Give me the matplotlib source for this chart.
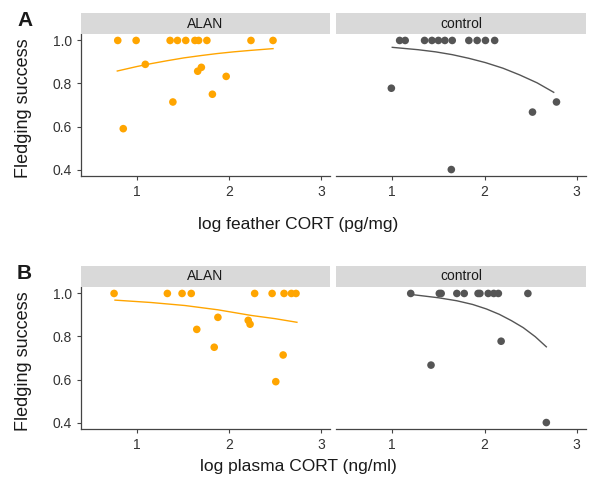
import matplotlib
matplotlib.use("Agg")
import matplotlib.pyplot as plt

plt.rcParams['font.family'] = ['Liberation Sans', 'DejaVu Sans']

ORANGE = '#FFA500'
GREY = '#555555'

# feather CORT, ALAN
feather_alan_x = [0.79, 0.99, 1.36, 1.44, 1.53, 1.63, 1.67, 1.76, 2.24, 2.48,
                  1.09, 1.66, 1.70, 1.97, 1.82, 1.39, 0.85]
feather_alan_y = [1.0, 1.0, 1.0, 1.0, 1.0, 1.0, 1.0, 1.0, 1.0, 1.0,
                  0.889, 0.857, 0.875, 0.833, 0.75, 0.714, 0.59]
feather_alan_fit_x = [0.785, 1.0, 1.15, 1.33, 1.51, 1.70, 1.87, 2.05, 2.24, 2.48]
feather_alan_fit_y = [0.858, 0.879, 0.892, 0.906, 0.919, 0.930, 0.939, 0.947, 0.954, 0.962]

# feather CORT, control
feather_ctrl_x = [1.08, 1.14, 1.35, 1.43, 1.50, 1.57, 1.65, 1.83, 1.92, 2.01, 2.11,
                  0.99, 2.52, 2.78, 1.64]
feather_ctrl_y = [1.0] * 11 + [0.778, 0.667, 0.714, 0.40]
feather_ctrl_fit_x = [1.0, 1.28, 1.47, 1.65, 1.83, 2.01, 2.20, 2.38, 2.57, 2.75]
feather_ctrl_fit_y = [0.968, 0.957, 0.947, 0.934, 0.917, 0.897, 0.871, 0.840, 0.803, 0.759]

# plasma CORT, ALAN
plasma_alan_x = [0.75, 1.33, 1.49, 1.59, 2.28, 2.47, 2.60, 2.68, 2.73,
                 1.65, 1.88, 1.84, 2.21, 2.23, 2.59, 2.51]
plasma_alan_y = [1.0] * 9 + [0.833, 0.889, 0.75, 0.875, 0.857, 0.714, 0.59]
plasma_alan_fit_x = [0.76, 1.15, 1.52, 1.88, 2.24, 2.50, 2.74]
plasma_alan_fit_y = [0.969, 0.958, 0.944, 0.924, 0.898, 0.883, 0.866]

# plasma CORT, control
plasma_ctrl_x = [1.20, 1.51, 1.53, 1.70, 1.78, 1.93, 1.95, 2.04, 2.10, 2.15, 2.47,
                 1.42, 2.18, 2.67]
plasma_ctrl_y = [1.0] * 11 + [0.667, 0.778, 0.40]
plasma_ctrl_fit_x = [1.21, 1.50, 1.70, 1.87, 2.02, 2.16, 2.29, 2.42, 2.55, 2.67]
plasma_ctrl_fit_y = [0.995, 0.980, 0.966, 0.949, 0.928, 0.903, 0.874, 0.841, 0.799, 0.752]

facets = ['ALAN', 'control']
x_ticks = [1, 2, 3]
y_ticks = [0.4, 0.6, 0.8, 1.0]

W, H = 589, 492
fig = plt.figure(figsize=(W / 100, H / 100), dpi=100)


def px_axes(left, top, right, bottom):
    return fig.add_axes([left / W, 1 - bottom / H, (right - left) / W, (bottom - top) / H])


def draw_panel(ax, xs, ys, fx, fy, color, show_y):
    ax.scatter(xs, ys, s=30, color=color, edgecolors='none', zorder=3, clip_on=False)
    ax.plot(fx, fy, color=color, lw=1.0, zorder=2)
    ax.set_xlim(0.39, 3.1)
    ax.set_ylim(0.37, 1.03)
    ax.set_xticks(x_ticks)
    ax.set_yticks(y_ticks)
    ax.set_yticklabels(['%.1f' % v for v in y_ticks])
    for s in ['top', 'right']:
        ax.spines[s].set_visible(False)
    ax.spines['bottom'].set_color('#444444')
    ax.spines['left'].set_color('#444444')
    ax.spines['bottom'].set_linewidth(0.9)
    ax.spines['left'].set_linewidth(0.9)
    ax.tick_params(colors='#444444', labelcolor='#333333', labelsize=10, length=3, width=0.8)
    if not show_y:
        ax.spines['left'].set_visible(False)
        ax.tick_params(axis='y', left=False, labelleft=False)


def draw_strip(left, top, right, bottom, label):
    sax = px_axes(left, top, right, bottom)
    sax.set_facecolor('#D9D9D9')
    sax.set_xticks([])
    sax.set_yticks([])
    for s in sax.spines.values():
        s.set_visible(False)
    sax.text(0.5, 0.5, label, ha='center', va='center', fontsize=10, color='#1A1A1A',
             transform=sax.transAxes)


rows = [
    (13, 34, 176, 'A', 'log feather CORT (pg/mg)', 225, 108,
     [(feather_alan_x, feather_alan_y, feather_alan_fit_x, feather_alan_fit_y, ORANGE),
      (feather_ctrl_x, feather_ctrl_y, feather_ctrl_fit_x, feather_ctrl_fit_y, GREY)]),
    (266, 287, 429, 'B', 'log plasma CORT (ng/ml)', 467, 361,
     [(plasma_alan_x, plasma_alan_y, plasma_alan_fit_x, plasma_alan_fit_y, ORANGE),
      (plasma_ctrl_x, plasma_ctrl_y, plasma_ctrl_fit_x, plasma_ctrl_fit_y, GREY)]),
]
cols = [(81, 330), (336, 586)]

for strip_top, ax_top, ax_bottom, tag, xlabel, xlabel_y, ylabel_y, series in rows:
    for i, (l, r) in enumerate(cols):
        ax = px_axes(l, ax_top, r, ax_bottom)
        xs, ys, fx, fy, c = series[i]
        draw_panel(ax, xs, ys, fx, fy, c, i == 0)
        draw_strip(l, strip_top, r, ax_top, facets[i])
    fig.text(24 / W, 1 - ylabel_y / H, 'Fledging success',
             rotation=90, ha='center', va='center', fontsize=13, color='#1A1A1A')
    fig.text(298 / W, 1 - xlabel_y / H, xlabel, ha='center', va='center',
             fontsize=12.5, color='#1A1A1A')
    fig.text(17 / W, 1 - (strip_top - 2) / H, tag, ha='left', va='top',
             fontsize=15, fontweight='bold', color='#1A1A1A')

fig.savefig('out.png', dpi=100)
